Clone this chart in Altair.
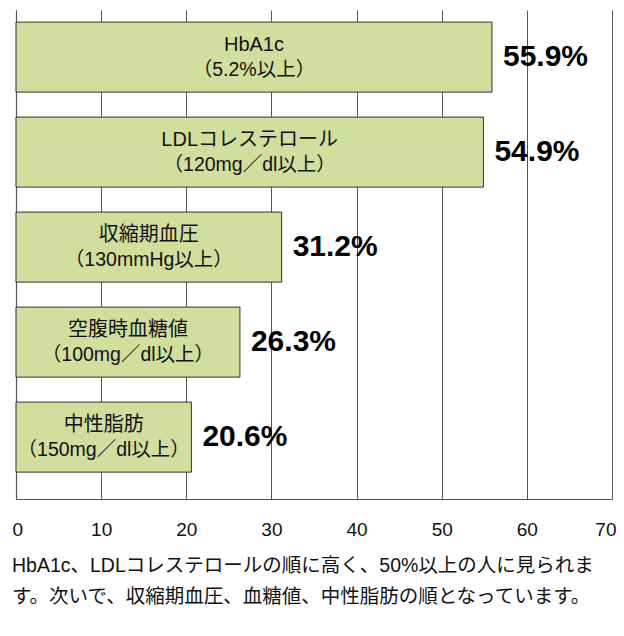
import altair as alt
import pandas as pd

categories = ["HbA1c", "LDLコレステロール", "収縮期血圧", "空腹時血糖値", "中性脂肪"]
criteria = ["（5.2%以上）", "（120mg／dl以上）", "（130mmHg以上）", "（100mg／dl以上）", "（150mg／dl以上）"]
values = [55.9, 54.9, 31.2, 26.3, 20.6]
x_ticks = [0, 10, 20, 30, 40, 50, 60, 70]
caption = [
    "HbA1c、LDLコレステロールの順に高く、50%以上の人に見られま",
    "す。次いで、収縮期血圧、血糖値、中性脂肪の順となっています。",
]

FONT = "Liberation Sans, Arial, Noto Sans CJK JP"

df = pd.DataFrame({
    "cat": categories,
    "crit": criteria,
    "value": values,
})
df["vlabel"] = df["value"].map(lambda v: f"{v:.1f}%")
df["mid"] = df["value"] / 2

y_enc = alt.Y(
    "cat:N",
    sort=categories,
    scale=alt.Scale(paddingInner=0.263, paddingOuter=0.205, align=0.31),
    axis=alt.Axis(labels=False, ticks=False, title=None, grid=False,
                  domainColor="#555555", domainWidth=1.2),
)
x_scale = alt.Scale(domain=[0, 70], nice=False)

base = alt.Chart(df)

bars = base.mark_bar(color="#d2de9e", stroke="#333333", strokeWidth=1).encode(
    y=y_enc,
    x=alt.X("value:Q", scale=x_scale,
            axis=alt.Axis(values=x_ticks, grid=True, gridColor="#555555", gridWidth=1,
                          domainColor="#555555", domainWidth=1.2, ticks=False,
                          labelPadding=21, labelFontSize=19, labelColor="#111111",
                          labelFlush=True, labelFlushOffset=4,
                          labelFont=FONT, title=None)),
)

name_text = base.mark_text(fontSize=20, baseline="middle", align="center", dy=-12,
                           color="#111111", font=FONT).encode(
    y=y_enc,
    x=alt.X("mid:Q", scale=x_scale),
    text="cat:N",
)

crit_text = base.mark_text(fontSize=19.5, baseline="middle", align="center", dy=13,
                           color="#111111", font=FONT).encode(
    y=y_enc,
    x=alt.X("mid:Q", scale=x_scale),
    text="crit:N",
)

vals = base.mark_text(fontSize=30, fontWeight="bold", align="left", baseline="middle",
                      dx=11, color="#000000", font=FONT).encode(
    y=y_enc,
    x=alt.X("value:Q", scale=x_scale),
    text="vlabel:N",
)

chart = alt.layer(bars, name_text, crit_text, vals).properties(
    width=596,
    height=489,
    autosize=alt.AutoSizeParams(type="none"),
    padding={"left": 8, "top": 2, "right": 4, "bottom": 118},
    title=alt.TitleParams(text=caption, orient="bottom", anchor="start", fontSize=19.5,
                          fontWeight="normal", lineHeight=31, offset=18,
                          color="#111111", font=FONT),
).configure_view(stroke=None)

chart.save("out.html", embed_options={"renderer": "svg", "actions": False})
